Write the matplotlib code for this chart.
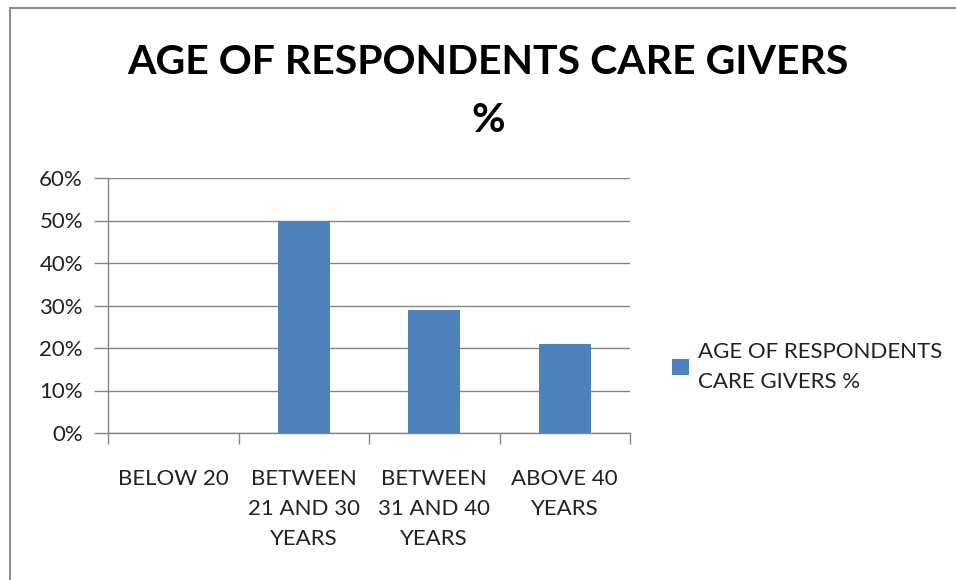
import matplotlib
matplotlib.use("Agg")
import matplotlib.pyplot as plt
from matplotlib.patches import Rectangle
from matplotlib.ticker import FuncFormatter

categories = ["BELOW 20", "BETWEEN\n21 AND 30\nYEARS", "BETWEEN\n31 AND 40\nYEARS", "ABOVE 40\nYEARS"]
values = [0.0, 0.50, 0.29, 0.21]
series_name = "AGE OF RESPONDENTS\nCARE GIVERS %"
title = "AGE OF RESPONDENTS CARE GIVERS\n%"
yticks = [0.0, 0.1, 0.2, 0.3, 0.4, 0.5, 0.6]

plt.rcParams['font.family'] = ['Lato', 'DejaVu Sans']

fig = plt.figure(figsize=(9.56, 5.80), dpi=100)
fig.patch.set_facecolor("white")
# outer chart border
fig.patches.append(Rectangle((10/956, -0.1), 1.2, 1 - 8/580 + 0.1, transform=fig.transFigure,
                             fill=False, edgecolor="#8c8c8c", linewidth=1.5))

ax = fig.add_axes([108/956, 1 - 433/580, (630 - 108)/956, (433 - 178)/580])
gray = "#868686"
pos = [i + 0.5 for i in range(len(categories))]
bars = ax.bar(pos, values, width=0.4, color="#4F81BD", label=series_name, zorder=3)

ax.set_xlim(0, len(categories))
ax.set_ylim(0, 0.6)
ax.set_yticks(yticks)
ax.yaxis.set_major_formatter(FuncFormatter(lambda v, p: f"{round(v*100)}%"))
ax.grid(axis="y", color=gray, linewidth=1, zorder=0)
ax.set_axisbelow(True)

ax.set_xticks(range(len(categories) + 1))
ax.set_xticklabels([])
ax.set_xticks(pos, minor=True)
ax.set_xticklabels(categories, minor=True, fontsize=16, color="#222222", linespacing=1.62)
ax.tick_params(axis="x", which="major", length=8, color=gray, width=1)
ax.tick_params(axis="x", which="minor", length=0, pad=26)
ax.tick_params(axis="y", length=10, color=gray, width=1, labelsize=16, labelcolor="#222222", pad=8)
for lab in ax.get_xticklabels(minor=True):
    lab.set_verticalalignment("top")

for s in ["top", "right"]:
    ax.spines[s].set_visible(False)
for s in ["left", "bottom"]:
    ax.spines[s].set_color(gray)
    ax.spines[s].set_linewidth(1)

fig.text(488/956, 1 - 62/580, "AGE OF RESPONDENTS CARE GIVERS", ha="center", va="center",
         fontsize=29.5, fontweight="bold", color="black")
fig.text(488/956, 1 - 120/580, "%", ha="center", va="center",
         fontsize=29.5, fontweight="bold", color="black")

leg = fig.legend(handles=[bars], labels=[series_name], loc="center left",
                 bbox_to_anchor=(652/956, 1 - 367/580), frameon=False, fontsize=16,
                 handlelength=0.75, handleheight=0.75, handletextpad=0.4, labelspacing=0)
for t in leg.get_texts():
    t.set_color("#222222")
    t.set_linespacing(1.62)

fig.savefig("out.png", dpi=100)
